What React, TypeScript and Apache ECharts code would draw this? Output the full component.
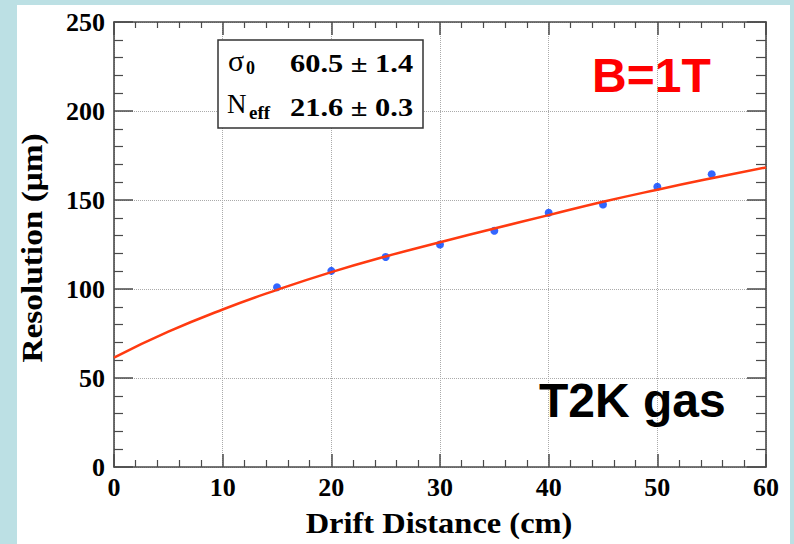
import React, { useEffect, useRef } from "react";
import * as echarts from "echarts";

// Measured points (drift distance in cm, resolution in µm)
const pointX = [15, 20, 25, 30, 35, 40, 45, 50, 55];
const pointY = [101.0, 110.2, 118.0, 125.0, 132.7, 142.8, 147.5, 157.4, 164.5];

// Fit curve
const curveX = [0, 5, 10, 15, 20, 25, 30, 35, 40, 45, 50, 55, 60];
const curveY = [61.5, 76, 88.5, 99.5, 109.5, 118.3, 126.3, 134, 141.5, 149, 155.8, 162.2, 168.3];

const xTitle = "Drift Distance (cm)";
const yTitle = "Resolution (\u03bcm)";
const sigmaValue = "60.5 \u00b1 1.4";
const neffValue = "21.6 \u00b1 0.3";
const fieldLabel = "B=1T";
const gasLabel = "T2K gas";

const SERIF = "'Liberation Serif', 'Times New Roman', serif";
const SANS = "'Liberation Sans', Arial, sans-serif";
const AXIS = "#4a4a4a";

export default function App() {
  const ref = useRef<HTMLDivElement>(null);

  useEffect(() => {
    if (!ref.current) return;
    const chart = echarts.init(ref.current, null, { renderer: "svg" });

    const axisBase = {
      type: "value" as const,
      axisLine: { show: true, onZero: false, lineStyle: { color: AXIS, width: 1.6 } },
    };

    chart.setOption({
      animation: false,
      grid: { left: 114, top: 22, right: 28, bottom: 77, containLabel: false },
      xAxis: [
        {
          ...axisBase,
          min: 0,
          max: 60,
          interval: 10,
          position: "bottom",
          axisTick: { show: true, inside: true, length: 13, lineStyle: { color: AXIS, width: 1.5 } },
          minorTick: { show: true, splitNumber: 5, length: 7, lineStyle: { color: AXIS, width: 1.2 } },
          splitLine: { show: true, lineStyle: { color: "#aaa", type: "dotted", width: 1 } },
          axisLabel: { color: "#000", fontFamily: SERIF, fontWeight: "bold", fontSize: 26, margin: 7 },
        },
        {
          ...axisBase,
          min: 0,
          max: 60,
          interval: 10,
          position: "top",
          axisTick: { show: true, inside: true, length: 13, lineStyle: { color: AXIS, width: 1.5 } },
          minorTick: { show: true, splitNumber: 5, length: 6, lineStyle: { color: AXIS, width: 1.2 } },
          splitLine: { show: false },
          axisLabel: { show: false },
        },
      ],
      yAxis: [
        {
          ...axisBase,
          min: 0,
          max: 250,
          interval: 50,
          position: "left",
          axisTick: { show: true, inside: true, length: 19, lineStyle: { color: AXIS, width: 1.5 } },
          minorTick: { show: true, splitNumber: 5, length: 9, lineStyle: { color: AXIS, width: 1.2 } },
          splitLine: { show: true, lineStyle: { color: "#aaa", type: "dotted", width: 1 } },
          axisLabel: { color: "#000", fontFamily: SERIF, fontWeight: "bold", fontSize: 26, margin: 9 },
        },
        {
          ...axisBase,
          min: 0,
          max: 250,
          interval: 50,
          position: "right",
          axisTick: { show: true, inside: true, length: 19, lineStyle: { color: AXIS, width: 1.5 } },
          minorTick: { show: true, splitNumber: 5, length: 10, lineStyle: { color: AXIS, width: 1.2 } },
          splitLine: { show: false },
          axisLabel: { show: false },
        },
      ],
      series: [
        {
          type: "scatter",
          xAxisIndex: 0,
          yAxisIndex: 0,
          data: pointX.map((x, i) => [x, pointY[i]]),
          symbol: "circle",
          symbolSize: 8,
          itemStyle: { color: "#0040ff" },
          z: 3,
        },
        {
          type: "line",
          xAxisIndex: 0,
          yAxisIndex: 0,
          data: curveX.map((x, i) => [x, curveY[i]]),
          smooth: true,
          showSymbol: false,
          lineStyle: { color: "#ff3a10", width: 2.5 },
          z: 4,
        },
      ],
      graphic: [
        {
          type: "text",
          x: 32,
          y: 248,
          rotation: Math.PI / 2,
          scaleX: 1.15,
          style: {
            text: yTitle,
            fontFamily: SERIF,
            fontWeight: "bold",
            fontSize: 29,
            fill: "#000",
            textAlign: "center",
            textVerticalAlign: "middle",
          },
        },
        {
          type: "text",
          x: 439,
          y: 524,
          scaleX: 1.12,
          style: {
            text: xTitle,
            fontFamily: SERIF,
            fontWeight: "bold",
            fontSize: 29,
            fill: "#000",
            textAlign: "center",
            textVerticalAlign: "middle",
          },
        },
        {
          type: "rect",
          z: 100,
          shape: { x: 218, y: 40, width: 205, height: 88 },
          style: { fill: "#fff", stroke: "#333", lineWidth: 1.5 },
        },
        {
          type: "text",
          z: 101,
          x: 228,
          y: 60,
          style: { text: "\u03c3", fontFamily: SERIF, fontSize: 30, fill: "#000", textAlign: "left", textVerticalAlign: "middle" },
        },
        {
          type: "text",
          z: 101,
          x: 246,
          y: 68,
          style: { text: "0", fontFamily: SERIF, fontWeight: "bold", fontSize: 18, fill: "#000", textAlign: "left", textVerticalAlign: "middle" },
        },
        {
          type: "text",
          z: 101,
          x: 227,
          y: 104,
          style: { text: "N", fontFamily: SERIF, fontSize: 27, fill: "#000", textAlign: "left", textVerticalAlign: "middle" },
        },
        {
          type: "text",
          z: 101,
          x: 249,
          y: 112,
          style: { text: "eff", fontFamily: SERIF, fontWeight: "bold", fontSize: 19, fill: "#000", textAlign: "left", textVerticalAlign: "middle" },
        },
        {
          type: "text",
          z: 101,
          x: 290,
          y: 63,
          scaleX: 1.17,
          style: { text: sigmaValue, fontFamily: SERIF, fontWeight: "bold", fontSize: 26, fill: "#000", textAlign: "left", textVerticalAlign: "middle" },
        },
        {
          type: "text",
          z: 101,
          x: 290,
          y: 107,
          scaleX: 1.17,
          style: { text: neffValue, fontFamily: SERIF, fontWeight: "bold", fontSize: 26, fill: "#000", textAlign: "left", textVerticalAlign: "middle" },
        },
        {
          type: "text",
          z: 101,
          x: 592,
          y: 75,
          style: { text: fieldLabel, fontFamily: SANS, fontWeight: "bold", fontSize: 48, fill: "#ff0000", textAlign: "left", textVerticalAlign: "middle" },
        },
        {
          type: "text",
          z: 101,
          x: 539,
          y: 400,
          style: { text: gasLabel, fontFamily: SANS, fontWeight: "bold", fontSize: 48, fill: "#000", textAlign: "left", textVerticalAlign: "middle" },
        },
      ],
    });

    return () => chart.dispose();
  }, []);

  return (
    <div style={{ position: "fixed", left: 0, top: 0, width: 794, height: 544, background: "#bce0e4" }}>
      <div style={{ position: "absolute", left: 17, top: 5, width: 773, height: 539, background: "#fff" }} />
      <div ref={ref} style={{ position: "absolute", left: 0, top: 0, width: 794, height: 544 }} />
    </div>
  );
}
